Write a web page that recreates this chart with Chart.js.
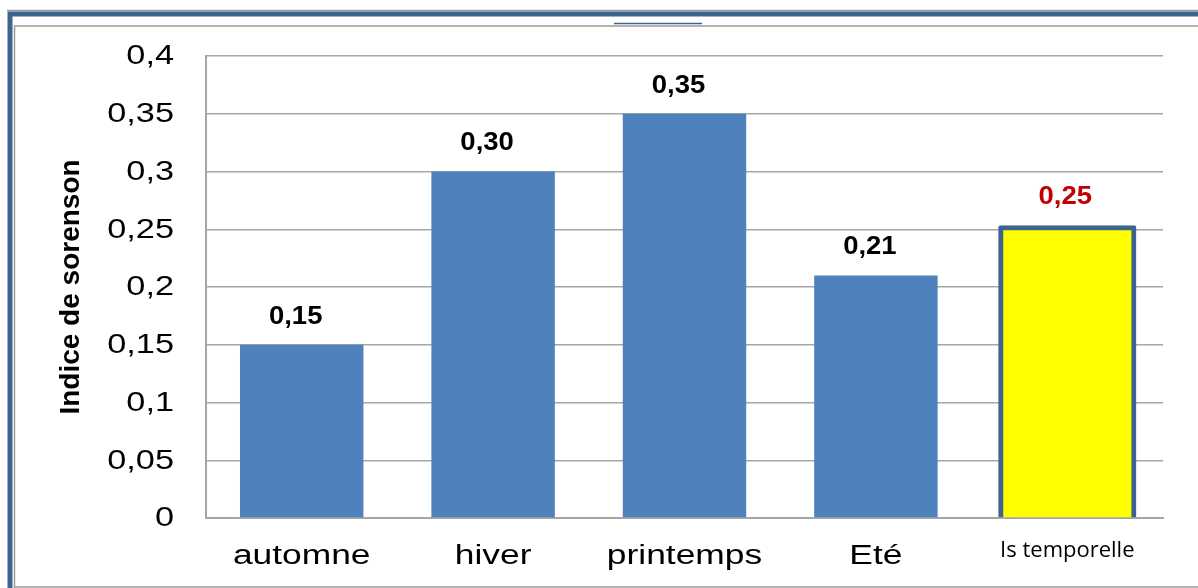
<!DOCTYPE html>
<html>
<head>
<meta charset="utf-8">
<script src="https://cdn.jsdelivr.net/npm/chart.js@4"></script>
<style>
  html, body { margin: 0; padding: 0; background: #fff; }
  #wrap { width: 1198px; height: 588px; }
</style>
</head>
<body>
<div id="wrap"><canvas id="sorensonChart" width="1198" height="588"></canvas></div>
<script>
  const categories = ['automne', 'hiver', 'printemps', 'Eté', 'Is temporelle'];
  const seasonValues = [0.15, 0.30, 0.35, 0.21, null];
  const temporalValues = [null, null, null, null, 0.25];
  const valueLabels = ['0,15', '0,30', '0,35', '0,21', '0,25'];
  const yTicks = [0, 0.05, 0.1, 0.15, 0.2, 0.25, 0.3, 0.35, 0.4];
  const yTickLabels = ['0', '0,05', '0,1', '0,15', '0,2', '0,25', '0,3', '0,35', '0,4'];

  const gridGray = '#a6a6a6';
  const frameBlue = '#3d6491';
  const sans = '"Liberation Sans", Arial, sans-serif';

  // text drawn a bit wider than the font, like the office renderer does
  function wideText(ctx, text, x, y, sx, align) {
    ctx.save();
    ctx.translate(x, y);
    ctx.scale(sx, 1);
    ctx.textAlign = align;
    ctx.fillText(text, 0, 0);
    ctx.restore();
  }

  // outer frame around the whole figure
  const framePlugin = {
    id: 'frame',
    beforeDraw(chart) {
      const { ctx, width, height } = chart;
      ctx.save();
      ctx.fillStyle = '#fff';
      ctx.fillRect(0, 0, width, height);

      ctx.strokeStyle = '#9a9a9a';
      ctx.lineWidth = 1.5;
      ctx.beginPath();
      ctx.moveTo(7, 10.5); ctx.lineTo(width, 10.5);
      ctx.moveTo(14, 26); ctx.lineTo(width, 26);
      ctx.moveTo(14.5, 26); ctx.lineTo(14.5, height);
      ctx.moveTo(14, height - 1); ctx.lineTo(width, height - 1);
      ctx.stroke();

      ctx.strokeStyle = frameBlue;
      ctx.lineWidth = 5;
      ctx.beginPath();
      ctx.moveTo(10, height); ctx.lineTo(10, 14); ctx.lineTo(width, 14);
      ctx.stroke();

      ctx.lineWidth = 1.5;
      ctx.beginPath();
      ctx.moveTo(614, 23.5); ctx.lineTo(702, 23.5);
      ctx.stroke();
      ctx.restore();
    }
  };

  // axis tick labels, placed from the chart's scales
  const tickLabelPlugin = {
    id: 'tickLabels',
    afterDraw(chart) {
      const { ctx } = chart;
      const xs = chart.scales.x;
      const ys = chart.scales.y;
      ctx.save();
      ctx.fillStyle = '#000';
      ctx.textBaseline = 'middle';
      ctx.font = '27px ' + sans;
      yTicks.forEach((v, i) => {
        wideText(ctx, yTickLabels[i], ys.right - 32, ys.getPixelForValue(v) + 1, 1.27, 'right');
      });
      categories.forEach((c, i) => {
        const px = xs.getPixelForValue(i);
        if (i === 4) {
          ctx.font = '22px "Open Sans", "Noto Sans", sans-serif';
          wideText(ctx, c, px, 551, 1, 'center');
        } else {
          ctx.font = '27px ' + sans;
          wideText(ctx, c, px, 557, 1.31, 'center');
        }
      });
      ctx.restore();
    }
  };

  // value labels above each bar
  const valueLabelPlugin = {
    id: 'valueLabels',
    afterDatasetsDraw(chart) {
      const { ctx } = chart;
      ctx.save();
      ctx.font = 'bold 25px ' + sans;
      ctx.textBaseline = 'middle';
      chart.data.datasets.forEach((ds, di) => {
        const meta = chart.getDatasetMeta(di);
        ds.data.forEach((v, i) => {
          if (v === null) return;
          const bar = meta.data[i];
          const top = di === 1 ? bar.y - 4 : bar.y;
          ctx.fillStyle = di === 1 ? '#c00000' : '#000';
          wideText(ctx, valueLabels[i], bar.x - (di === 1 ? 2 : 6), top - 28, 1.1, 'center');
        });
      });
      ctx.restore();
    }
  };

  new Chart(document.getElementById('sorensonChart').getContext('2d'), {
    type: 'bar',
    data: {
      labels: categories,
      datasets: [
        {
          data: seasonValues,
          backgroundColor: '#4f81bd',
          borderWidth: 0,
          barPercentage: 0.645,
          categoryPercentage: 1,
          grouped: false,
        },
        {
          data: temporalValues,
          backgroundColor: '#ffff00',
          borderColor: frameBlue,
          borderWidth: 5,
          borderRadius: 2,
          inflateAmount: 4,
          barPercentage: 0.68,
          categoryPercentage: 1,
          grouped: false,
        },
      ],
    },
    options: {
      responsive: false,
      animation: false,
      layout: { padding: { left: 0, top: 56, right: 35, bottom: 0 } },
      plugins: {
        legend: { display: false },
        tooltip: { enabled: false },
      },
      scales: {
        x: {
          grid: { display: false, drawTicks: false },
          border: { color: gridGray, width: 2 },
          ticks: { display: false },
          afterFit(scale) { scale.height = 70; },
        },
        y: {
          min: 0,
          max: 0.4,
          afterBuildTicks(scale) { scale.ticks = yTicks.map(v => ({ value: v })); },
          grid: { color: gridGray, lineWidth: 1.5, drawTicks: false },
          border: { color: gridGray, width: 2 },
          ticks: { display: false },
          title: {
            display: true,
            text: 'Indice de sorenson',
            color: '#000',
            font: { family: sans, size: 28, weight: 'bold' },
            padding: { top: 54, bottom: 0 },
          },
          afterFit(scale) { scale.width = 206; },
        },
      },
    },
    plugins: [framePlugin, valueLabelPlugin, tickLabelPlugin],
  });
</script>
</body>
</html>
